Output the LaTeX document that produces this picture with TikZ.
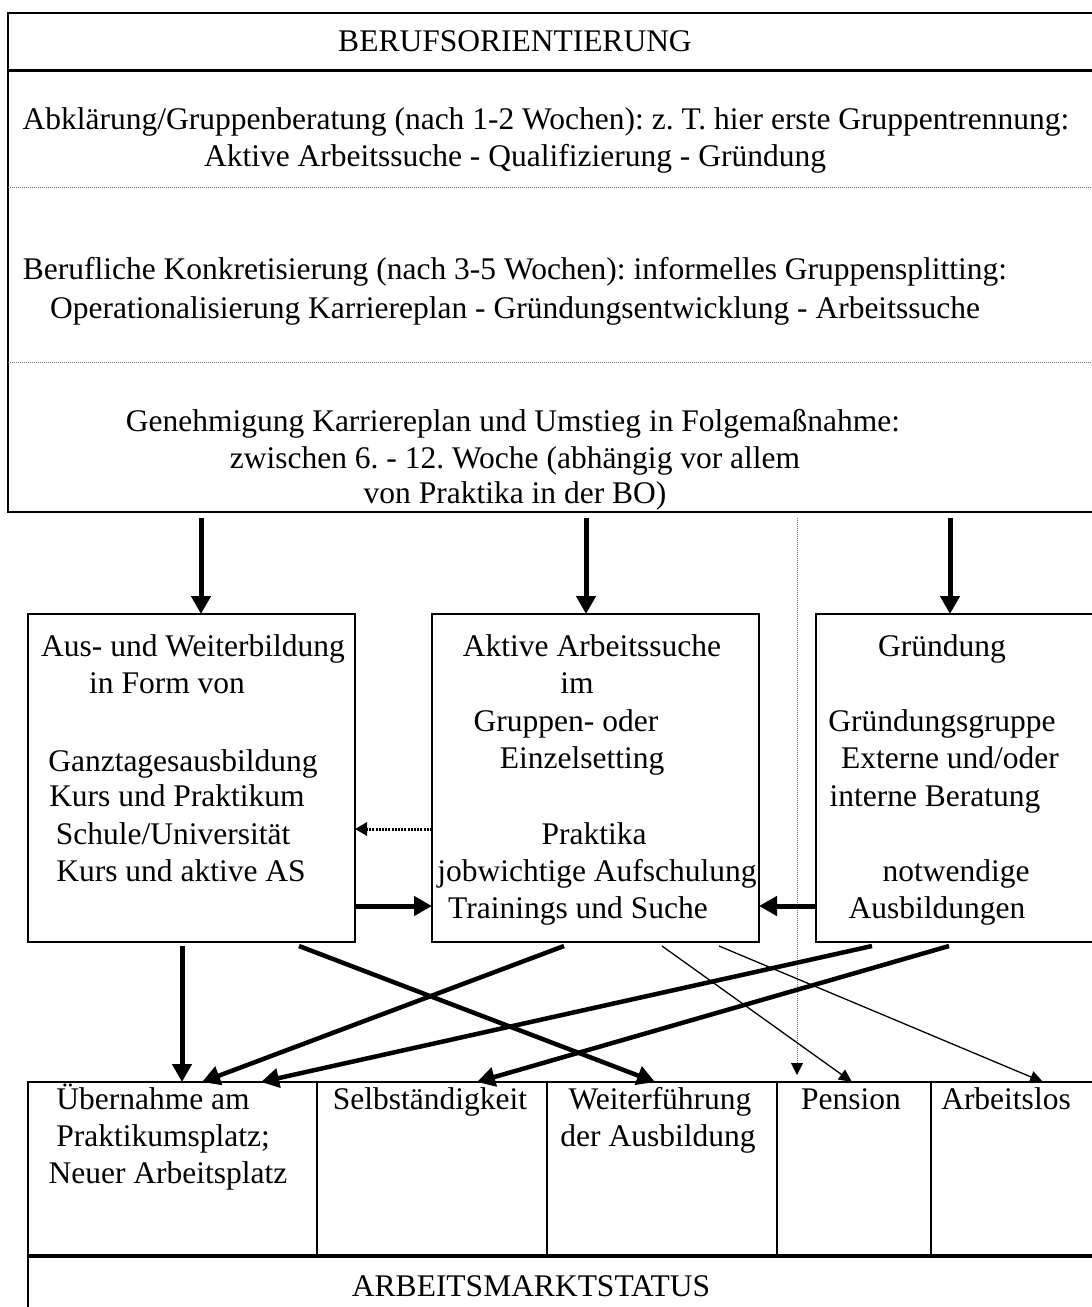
\documentclass[tikz,border=0pt]{standalone}
\usepackage{fontspec}
\setmainfont{Liberation Serif}
\usetikzlibrary{arrows.meta}
\frenchspacing
\begin{document}
\begin{tikzpicture}[x=1pt,y=-1pt,
  box/.style={draw, line width=2.4pt, anchor=north west, inner sep=0pt, outer sep=0pt},
  txt/.style={anchor=mid, inner sep=0pt, yshift=-4pt, font=\fontsize{31.5}{36}\selectfont\frenchspacing},
  thk/.style={line width=5pt, -{Triangle[length=18pt,width=19pt]}},
  diag/.style={line width=4.5pt, -{Triangle[length=18pt,width=19pt]}},
  thinarrow/.style={line width=1.3pt, -{Triangle[length=13pt,width=12pt]}},
  grayline/.style={draw=black!55, line width=1pt, dash pattern=on 1pt off 1pt},
  dotarrow/.style={line width=3pt, dash pattern=on 2pt off 1.2pt, -{Triangle[length=12pt,width=13pt]}}
]
\clip (0,0) rectangle (1092,1307);
\fill[white] (0,0) rectangle (1092,1307);

% top box
\node[box, minimum width=1100pt, minimum height=499pt] (T) at (8,13) {};
\coordinate (h1) at (0,70);
\coordinate (h2) at (0,187);
\coordinate (h3) at (0,362);
\draw[line width=3pt] (T.west |- h1) -- (T.east |- h1);
\draw[grayline] (T.west |- h2) -- (T.east |- h2);
\draw[grayline] (T.west |- h3) -- (T.east |- h3);

\node[txt] (t0) at (515,45) {BERUFSORIENTIERUNG};
\node[txt] (t1) at (546,123) {Abklärung/Gruppenberatung (nach 1-2 Wochen): z. T. hier erste Gruppentrennung:};
\node[txt] (t2) at (515,160) {Aktive Arbeitssuche - Qualifizierung - Gründung};
\node[txt] (t3) at (515,273) {Berufliche Konkretisierung (nach 3-5 Wochen): informelles Gruppensplitting:};
\node[txt] (t4) at (515,312) {Operationalisierung Karriereplan - Gründungsentwicklung - Arbeitssuche};
\node[txt] (t5) at (513,425) {Genehmigung Karriereplan und Umstieg in Folgemaßnahme:};
\node[txt] (t6) at (515,462) {zwischen 6. - 12. Woche (abhängig vor allem};
\node[txt] (t7) at (515,497) {von Praktika in der BO)};

% middle boxes
\node[box, minimum width=327pt, minimum height=328pt] (A) at (28,614) {};
\node[box, minimum width=327pt, minimum height=328pt] (M) at (432,614) {};
\node[box, minimum width=290pt, minimum height=328pt] (G) at (816,614) {};

\node[txt] (a1) at (193,650) {Aus- und Weiterbildung};
\node[txt] (a2) at (167,687) {in Form von};
\node[txt] (a3) at (183,765) {Ganztagesausbildung};
\node[txt] (a4) at (177,800) {Kurs und Praktikum};
\node[txt] (a5) at (173,838) {Schule/Universität};
\node[txt] (a6) at (181,875) {Kurs und aktive AS};

\node[txt] (m1) at (592,650) {Aktive Arbeitssuche};
\node[txt] (m2) at (577,687) {im};
\node[txt] (m3) at (566,725) {Gruppen- oder};
\node[txt] (m4) at (582,762) {Einzelsetting};
\node[txt] (m5) at (594,838) {Praktika};
\node[txt] (m6) at (597,875) {jobwichtige Aufschulung};
\node[txt] (m7) at (578,912) {Trainings und Suche};

\node[txt] (g1) at (942,650) {Gründung};
\node[txt] (g2) at (942,725) {Gründungsgruppe};
\node[txt] (g3) at (950,762) {Externe und/oder};
\node[txt] (g4) at (935,800) {interne Beratung};
\node[txt] (g5) at (956,875) {notwendige};
\node[txt] (g6) at (937,912) {Ausbildungen};

% bottom boxes
\node[box, minimum width=289pt, minimum height=174pt] (U) at (28,1082) {};
\node[box, minimum width=230pt, minimum height=174pt] (S) at (317,1082) {};
\node[box, minimum width=230pt, minimum height=174pt] (W) at (547,1082) {};
\node[box, minimum width=154pt, minimum height=174pt] (P) at (777,1082) {};
\node[box, minimum width=175pt, minimum height=174pt] (L) at (931,1082) {};
\node[box, minimum width=1078pt, minimum height=80pt] (Z) at (28,1256) {};
\draw[line width=3.5pt] (Z.north west) -- (Z.north east);

\node[txt] (u1) at (153,1103) {Übernahme am};
\node[txt] (u2) at (163,1140) {Praktikumsplatz;};
\node[txt] (u3) at (168,1177) {Neuer Arbeitsplatz};
\node[txt] (s1) at (430,1103) {Selbständigkeit};
\node[txt] (w1) at (660,1103) {Weiterführung};
\node[txt] (w2) at (658,1140) {der Ausbildung};
\node[txt] (p1) at (851,1103) {Pension};
\node[txt] (l1) at (1006,1103) {Arbeitslos};
\node[txt] (z1) at (531,1290) {ARBEITSMARKTSTATUS};

% arrows from top box
\coordinate (s1a) at (201,518);
\coordinate (s1b) at (586,518);
\coordinate (s1c) at (950,518);
\draw[thk] (s1a) -- (s1a |- A.north);
\draw[thk] (s1b) -- (s1b |- M.north);
\draw[thk] (s1c) -- (s1c |- G.north);

% dotted vertical
\coordinate (dv) at (797,518);
\draw[grayline, -{Triangle[length=12pt,width=12pt,color=black]}] (dv) -- ([yshift=7pt]dv |- P.north);

% horizontal arrows
\draw[thk] ([yshift=-128pt]A.east) -- ([yshift=-128pt]M.west);
\draw[thk] ([yshift=-128pt]G.west) -- ([yshift=-128pt]M.east);
\draw[dotarrow] ([yshift=-51pt]M.west) -- ([yshift=-51pt]A.east);

% arrows to bottom
\coordinate (c1) at (182,946);
\draw[thk] (c1) -- (c1 |- U.north);
\draw[diag] ([xshift=271pt,yshift=-4pt]A.south west) -- ([xshift=627pt]U.north west);
\draw[diag] ([xshift=132pt,yshift=-4pt]M.south west) -- ([xshift=174pt]U.north west);
\draw[diag] ([xshift=56pt,yshift=-4pt]G.south west) -- ([xshift=233pt]U.north west);
\draw[diag] ([xshift=133pt,yshift=-4pt]G.south west) -- ([xshift=160pt]S.north west);
\draw[thinarrow] ([xshift=230pt,yshift=-4pt]M.south west) -- ([xshift=75pt]P.north west);
\draw[thinarrow] ([xshift=287pt,yshift=-4pt]M.south west) -- ([xshift=112pt]L.north west);
\end{tikzpicture}
\end{document}
